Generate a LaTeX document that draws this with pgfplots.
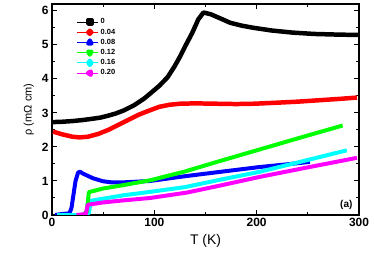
\documentclass[border=0pt]{standalone}
\usepackage{fontspec}
\setmainfont{Liberation Sans}
\usepackage{pgfplots}
\pgfplotsset{compat=1.18}
\begin{document}
\begin{tikzpicture}
\begin{axis}[name=ax,
  scale only axis, width=307bp, height=211bp,
  xmin=0, xmax=300, ymin=0, ymax=6.2,
  xtick={0,100,200,300}, ytick={0,1,...,6},
  minor xtick={50,150,250}, minor ytick={0.5,1.5,...,5.5},
  tick align=inside, major tick length=5bp, minor tick length=3bp,
  axis line style={line width=1.2pt}, tick style={line width=1pt,black},
  /pgf/number format/assume math mode=true,
  ticklabel style={font=\fontsize{12}{12}\selectfont\bfseries},
  xlabel={T (K)}, ylabel={ρ (mΩ cm)},
  xlabel style={font=\fontsize{14}{14}\selectfont, yshift=-1bp},
  ylabel style={font=\fontsize{11}{11}\selectfont, yshift=1bp},
  legend style={draw=none, fill=none, at={(0.07,0.95)}, anchor=north west,
    font=\fontsize{7.5}{8}\selectfont\bfseries, row sep=-0.5pt},
  legend cell align=left,
  legend image code/.code={\draw[#1, line width=0.8pt] (0cm,0cm) -- (0.75cm,0cm); \draw[#1, mark repeat=1, mark phase=1] plot coordinates {(0.45cm,0cm)};},
  every axis plot/.append style={line width=4pt, line join=round},
]
\addplot[black, no marks, forget plot, line width=4.5pt] coordinates {(1,2.73)(10,2.74)(20,2.76)(30,2.79)(40,2.83)(47,2.86)(55,2.92)(62,2.98)(70,3.07)(80,3.22)(90,3.42)(96,3.57)(105,3.8)(113,4.05)(120,4.38)(125,4.65)(130,4.95)(137,5.35)(143,5.75)(148,5.95)(155,5.9)(165,5.77)(174,5.65)(186,5.56)(197,5.5)(215,5.42)(235,5.36)(256,5.32)(280,5.3)(300,5.29)};
\addplot[red, no marks, forget plot, line width=4.5pt] coordinates {(1,2.45)(10,2.37)(20,2.3)(27,2.28)(35,2.3)(45,2.38)(55,2.5)(65,2.65)(75,2.8)(85,2.95)(96,3.08)(105,3.18)(115,3.24)(125,3.27)(140,3.28)(160,3.27)(180,3.26)(198,3.27)(220,3.3)(240,3.33)(260,3.37)(280,3.41)(298,3.45)};
\addplot[blue, no marks, forget plot] coordinates {(3,0)(10,0.03)(17,0.05)(19,0.2)(21,0.6)(23,1.0)(25.5,1.25)(27.5,1.27)(30,1.22)(40,1.08)(50,0.99)(58,0.96)(70,0.96)(96,1.0)(130,1.14)(165,1.27)(203,1.41)(230,1.49)(252,1.56)};
\addplot[color={rgb,255:red,0;green,255;blue,255}, no marks, forget plot] coordinates {(5,0)(30,0)(36,0.05)(38,0.42)(50,0.48)(70,0.58)(96,0.68)(130,0.82)(165,1.04)(203,1.27)(245,1.58)(288,1.9)};
\addplot[color={rgb,255:red,0;green,255;blue,0}, no marks, forget plot] coordinates {(30,0)(34,0.1)(36,0.67)(50,0.78)(70,0.88)(96,1.02)(130,1.28)(160,1.55)(200,1.9)(240,2.25)(284,2.63)};
\addplot[color={rgb,255:red,255;green,0;blue,255}, no marks, forget plot] coordinates {(24,0)(33,0.03)(35,0.3)(50,0.37)(70,0.43)(96,0.5)(132,0.66)(165,0.87)(203,1.12)(250,1.4)(298,1.68)};
\addlegendimage{black, mark=square*, mark size=1.8pt}
\addlegendentry{0}
\addlegendimage{red, mark=*, mark size=1.8pt}
\addlegendentry{0.04}
\addlegendimage{blue, mark=triangle*, mark size=2.1pt}
\addlegendentry{0.08}
\addlegendimage{color={rgb,255:red,0;green,255;blue,0}, mark=triangle*, mark options={rotate=180}, mark size=2.1pt}
\addlegendentry{0.12}
\addlegendimage{color={rgb,255:red,0;green,255;blue,255}, mark=diamond*, mark size=2.2pt}
\addlegendentry{0.16}
\addlegendimage{color={rgb,255:red,255;green,0;blue,255}, mark=triangle*, mark options={rotate=90}, mark size=2.1pt}
\addlegendentry{0.20}
\node[anchor=south east, font=\fontsize{10}{10}\selectfont\bfseries] at (rel axis cs:0.99,0.01) {(a)};
\end{axis}
\pgfresetboundingbox
\path (ax.south west) ++(-52bp,-51bp) rectangle ++(374bp,266bp);
\end{tikzpicture}
\end{document}
